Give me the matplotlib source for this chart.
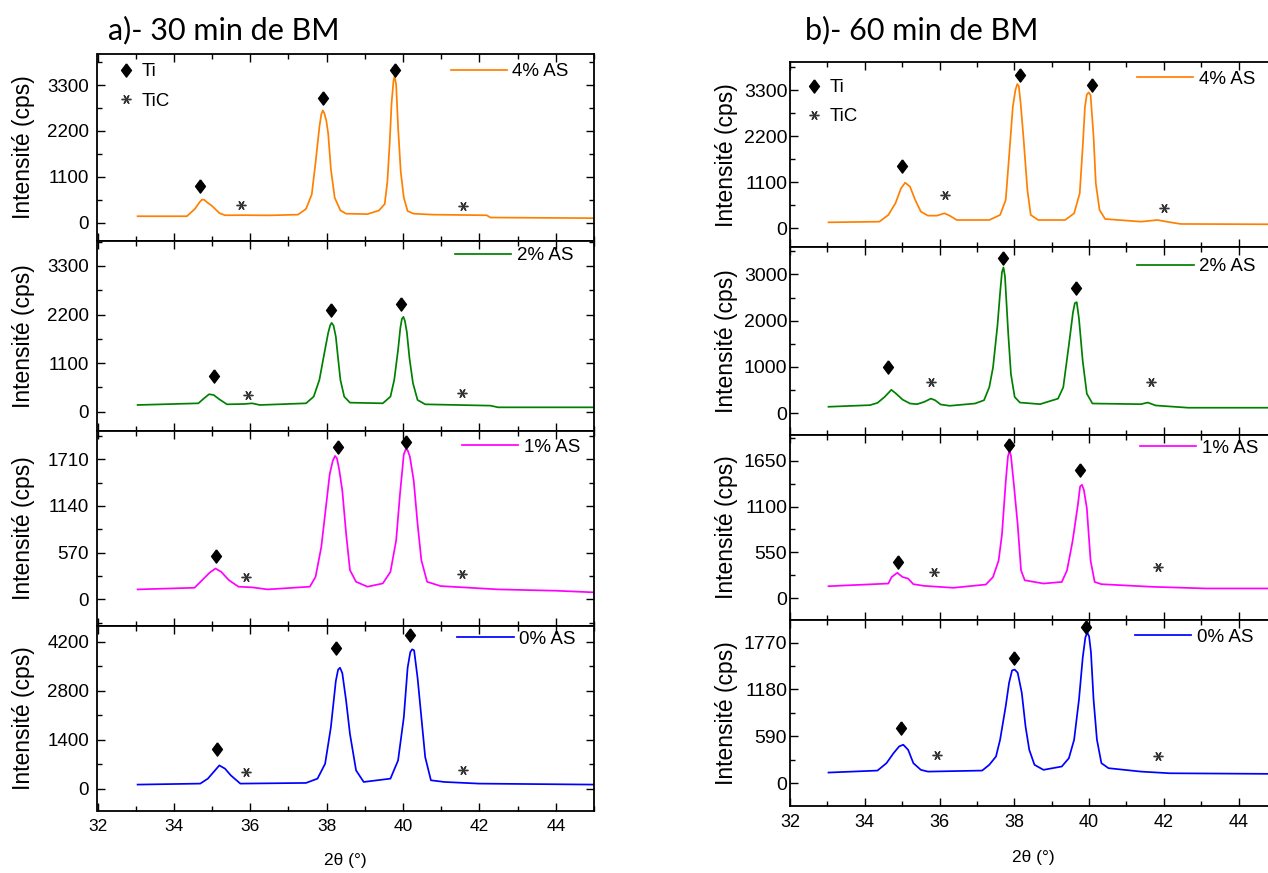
import numpy as np
import matplotlib.pyplot as plt
from matplotlib.ticker import MultipleLocator
from matplotlib.lines import Line2D

plt.rcParams['font.family'] = ['Liberation Sans', 'DejaVu Sans']

# -----------------------------
# Data (2theta in deg, intensity in cps)
# -----------------------------
# a) 30 min BM
tt_30_4 = [33.05, 34.34, 34.55, 34.68, 34.74, 34.80, 34.88, 35.0, 35.19, 35.34, 35.8, 36.5, 37.25, 37.46, 37.61, 37.71,
           37.81, 37.86, 37.90, 37.94, 37.99, 38.04, 38.11, 38.21, 38.36, 38.51, 39.07, 39.37, 39.52, 39.59, 39.65,
           39.70, 39.75, 39.78, 39.82, 39.87, 39.94, 40.02, 40.12, 40.28, 40.78, 42.19, 42.29, 45.0]
i_30_4 = [154, 154, 330, 500, 554, 545, 480, 400, 230, 177, 180, 175, 192, 330, 677, 1446,
          2292, 2600, 2692, 2620, 2450, 2138, 1292, 600, 292, 215, 205, 292, 446, 985, 1908,
          2869, 3400, 3520, 3300, 2292, 1215, 600, 277, 215, 192, 177, 123, 108]

tt_30_2 = [33.05, 34.64, 34.79, 34.92, 35.04, 35.19, 35.39, 35.85, 36.05, 36.25, 37.46, 37.66, 37.81, 37.94, 38.04,
           38.09, 38.13, 38.18, 38.24, 38.30, 38.36, 38.46, 38.61, 39.47, 39.67, 39.77, 39.87, 39.93, 39.97, 40.01,
           40.05, 40.10, 40.17, 40.26, 40.38, 40.58, 42.29, 42.49, 45.0]
i_30_2 = [152, 190, 303, 395, 379, 281, 167, 175, 190, 152, 190, 341, 721, 1328, 1783,
          1950, 2011, 1950, 1700, 1200, 721, 341, 205, 190, 341, 721, 1404, 1900, 2100, 2147,
          2050, 1800, 1200, 645, 266, 167, 137, 99, 99]

tt_30_1 = [33.05, 34.54, 34.74, 34.94, 35.09, 35.24, 35.44, 35.69, 36.05, 36.45, 37.56, 37.71, 37.86, 37.98, 38.08,
           38.16, 38.22, 38.27, 38.33, 38.41, 38.51, 38.61, 38.77, 39.07, 39.47, 39.67, 39.82, 39.92, 40.02, 40.07,
           40.12, 40.18, 40.28, 40.38, 40.48, 40.63, 40.98, 42.49, 44.0, 45.0]
i_30_1 = [121, 141, 234, 327, 376, 335, 234, 154, 146, 121, 154, 275, 639, 1124, 1528,
          1690, 1750, 1720, 1580, 1326, 800, 356, 214, 154, 194, 335, 720, 1285, 1770, 1830,
          1820, 1740, 1447, 922, 477, 214, 162, 121, 105, 85]

tt_30_0 = [33.05, 34.69, 34.89, 35.04, 35.19, 35.34, 35.49, 35.74, 37.46, 37.76, 37.96, 38.11, 38.24, 38.30, 38.35,
           38.41, 38.51, 38.61, 38.77, 38.97, 39.67, 39.87, 40.02, 40.12, 40.19, 40.24, 40.29, 40.38, 40.48, 40.58,
           40.73, 41.08, 41.99, 45.0]
i_30_0 = [114, 142, 284, 473, 662, 568, 378, 142, 161, 284, 710, 1750, 3075, 3400, 3453,
          3300, 2507, 1561, 520, 189, 284, 804, 2034, 3453, 3900, 3980, 3950, 3169, 2034, 899,
          237, 189, 142, 114]

# b) 60 min BM
tt_60_4 = [33.03, 34.39, 34.63, 34.82, 34.97, 35.08, 35.21, 35.35, 35.50, 35.69, 35.93, 36.13, 36.27, 36.46, 37.33,
           37.62, 37.77, 37.86, 37.96, 38.03, 38.08, 38.12, 38.17, 38.25, 38.35, 38.44, 38.64, 39.36, 39.60, 39.75,
           39.83, 39.89, 39.94, 39.99, 40.04, 40.12, 40.18, 40.28, 40.43, 41.39, 41.83, 42.07, 42.45, 45.0]
i_60_4 = [143, 159, 319, 598, 956, 1092, 996, 677, 398, 303, 303, 359, 303, 199, 199,
          319, 677, 1713, 2908, 3307, 3450, 3400, 2988, 2112, 916, 319, 199, 199, 359, 837,
          1952, 2908, 3200, 3250, 3187, 2191, 1076, 438, 223, 159, 199, 159, 104, 96]

tt_60_2 = [33.03, 34.14, 34.34, 34.53, 34.71, 34.82, 35.01, 35.21, 35.40, 35.59, 35.77, 35.88, 36.03, 36.27, 36.95,
           37.19, 37.33, 37.43, 37.55, 37.62, 37.67, 37.71, 37.75, 37.84, 37.91, 38.01, 38.15, 38.69, 39.17, 39.31,
           39.46, 39.57, 39.62, 39.67, 39.73, 39.83, 39.94, 40.09, 41.39, 41.57, 41.78, 42.65, 45.0]
i_60_2 = [141, 176, 225, 352, 507, 437, 296, 211, 197, 246, 317, 282, 190, 162, 211,
          282, 563, 986, 1901, 2606, 3050, 3150, 2958, 1690, 845, 352, 232, 197, 317, 563,
          1479, 2183, 2380, 2400, 2042, 1127, 423, 211, 197, 232, 169, 120, 120]

tt_60_1 = [33.03, 34.63, 34.72, 34.87, 35.01, 35.16, 35.30, 35.59, 36.37, 37.24, 37.43, 37.58, 37.67, 37.77, 37.83,
           37.87, 37.91, 37.99, 38.09, 38.18, 38.28, 38.78, 39.27, 39.41, 39.56, 39.70, 39.76, 39.81, 39.86, 39.94,
           40.04, 40.15, 40.33, 41.68, 43.13, 45.0]
i_60_1 = [145, 177, 255, 306, 255, 236, 169, 149, 126, 165, 255, 452, 766, 1395, 1700,
          1770, 1709, 1356, 884, 334, 216, 177, 196, 334, 688, 1120, 1340, 1360, 1300, 1081,
          452, 196, 169, 138, 118, 118]

tt_60_0 = [33.03, 34.34, 34.58, 34.77, 34.92, 35.03, 35.16, 35.30, 35.50, 35.69, 37.14, 37.33, 37.51, 37.62, 37.77,
           37.86, 37.94, 38.01, 38.09, 38.20, 38.30, 38.40, 38.54, 38.78, 39.27, 39.46, 39.60, 39.73, 39.83, 39.90,
           39.95, 40.00, 40.05, 40.12, 40.21, 40.33, 40.52, 41.39, 42.16, 45.0]
i_60_0 = [135, 160, 253, 379, 464, 485, 421, 253, 169, 147, 160, 232, 337, 548, 969,
          1264, 1420, 1430, 1391, 1138, 716, 421, 232, 169, 211, 316, 548, 1054, 1580, 1833,
          1896, 1850, 1650, 1054, 548, 253, 190, 147, 126, 118]

# peak labels: Ti (diamonds) and TiC (asterisks)
ti_x_30_4, ti_y_30_4 = [34.69, 37.91, 39.79], [869, 2985, 3662]
tic_x_30_4, tic_y_30_4 = [35.77, 41.56], [423, 392]
ti_x_30_2, ti_y_30_2 = [35.04, 38.12, 39.95], [812, 2299, 2428]
tic_x_30_2, tic_y_30_2 = [35.95, 41.55], [379, 417]
ti_x_30_1, ti_y_30_1 = [35.09, 38.29, 40.07], [529, 1863, 1924]
tic_x_30_1, tic_y_30_1 = [35.88, 41.55], [275, 303]
ti_x_30_0, ti_y_30_0 = [35.14, 38.24, 40.19], [1135, 4021, 4399]
tic_x_30_0, tic_y_30_0 = [35.90, 41.56], [473, 539]

ti_x_60_4, ti_y_60_4 = [34.99, 38.14, 40.09], [1490, 3673, 3426]
tic_x_60_4, tic_y_60_4 = [36.14, 42.0], [797, 478]
ti_x_60_2, ti_y_60_2 = [34.63, 37.70, 39.65], [1000, 3345, 2711]
tic_x_60_2, tic_y_60_2 = [35.76, 41.66], [669, 669]
ti_x_60_1, ti_y_60_1 = [34.90, 37.86, 39.75], [432, 1835, 1532]
tic_x_60_1, tic_y_60_1 = [35.86, 41.85], [314, 373]
ti_x_60_0, ti_y_60_0 = [34.97, 37.99, 39.92], [695, 1580, 1960]
tic_x_60_0, tic_y_60_0 = [35.93, 41.85], [358, 337]

labels = ['4% AS', '2% AS', '1% AS', '0% AS']
colors = ['#FF8000', '#008000', '#FF00FF', '#0000FF']
yticks_30 = [[0, 1100, 2200, 3300], [0, 1100, 2200, 3300], [0, 570, 1140, 1710], [0, 1400, 2800, 4200]]
yticks_60 = [[0, 1100, 2200, 3300], [0, 1000, 2000, 3000], [0, 550, 1100, 1650], [0, 590, 1180, 1770]]
xticks = [32, 34, 36, 38, 40, 42, 44]

DIAMOND = [(0, 1), (0.75, 0), (0, -1), (-0.75, 0), (0, 1)]
STAR = (6, 2, 90)

# -----------------------------
# Layout (pixel boxes of the panels)
# -----------------------------
W, H = 1268, 873
fig = plt.figure(figsize=(W / 100, H / 100), dpi=100)


def add_ax(l, r, t, b):
    return fig.add_axes([l / W, 1 - b / H, (r - l) / W, (b - t) / H])


cols = [
    dict(left=97.5, right=594, edges=[54, 241, 430.7, 625.7, 811],
         ylims=[(-440, 4045), (-430, 3864), (-322, 2058), (-641, 4655)],
         yticks=yticks_30,
         data=[(tt_30_4, i_30_4), (tt_30_2, i_30_2), (tt_30_1, i_30_1), (tt_30_0, i_30_0)],
         ti=[(ti_x_30_4, ti_y_30_4), (ti_x_30_2, ti_y_30_2), (ti_x_30_1, ti_y_30_1), (ti_x_30_0, ti_y_30_0)],
         tic=[(tic_x_30_4, tic_y_30_4), (tic_x_30_2, tic_y_30_2), (tic_x_30_1, tic_y_30_1), (tic_x_30_0, tic_y_30_0)],
         leg=[(0.711, 0.906), (0.720, 0.922), (0.734, 0.915), (0.725, 0.927)],
         phase_leg=(0.042, 0.95), tick_fs=13.5, xtick_fs=12.5, ypad=6.0, ylab_x=-0.126, xlab_y=-0.227,
         title='a)- 30 min de BM', title_x=108),
    dict(left=790, right=1276, edges=[62.3, 247.3, 435, 620, 805.7],
         ylims=[(-454, 3970), (-469, 3585), (-260, 1957), (-282, 2054)],
         yticks=yticks_60,
         data=[(tt_60_4, i_60_4), (tt_60_2, i_60_2), (tt_60_1, i_60_1), (tt_60_0, i_60_0)],
         ti=[(ti_x_60_4, ti_y_60_4), (ti_x_60_2, ti_y_60_2), (ti_x_60_1, ti_y_60_1), (ti_x_60_0, ti_y_60_0)],
         tic=[(tic_x_60_4, tic_y_60_4), (tic_x_60_2, tic_y_60_2), (tic_x_60_1, tic_y_60_1), (tic_x_60_0, tic_y_60_0)],
         leg=[(0.714, 0.908), (0.715, 0.897), (0.720, 0.928), (0.710, 0.907)],
         phase_leg=(0.033, 0.91), tick_fs=14, xtick_fs=13, ypad=2.0, ylab_x=-0.107, xlab_y=-0.239,
         title='b)- 60 min de BM', title_x=805),
]

for col in cols:
    e = col['edges']
    for k in range(4):
        ax = add_ax(col['left'], col['right'], e[k], e[k + 1])
        x, y = col['data'][k]
        line, = ax.plot(x, y, color=colors[k], lw=1.25)
        ax.plot(*col['ti'][k], ls='', marker=DIAMOND, ms=9.5, color='black')
        ax.plot(*col['tic'][k], ls='', marker=STAR, ms=7, mew=1.0, color='#333333')

        ax.set_xlim(32, 45)
        ax.set_ylim(*col['ylims'][k])
        ax.set_xticks(xticks)
        ax.xaxis.set_minor_locator(MultipleLocator(1))
        yt = col['yticks'][k]
        ax.set_yticks(yt)
        ax.yaxis.set_minor_locator(MultipleLocator(yt[1] / 2))
        ax.tick_params(which='both', direction='in', top=True, right=True, width=1.0)
        ax.tick_params(which='major', length=6)
        ax.tick_params(which='minor', length=3.5)
        ax.tick_params(axis='y', pad=col['ypad'], labelsize=col['tick_fs'])
        ax.tick_params(axis='x', pad=6, labelsize=col['xtick_fs'])
        for s in ax.spines.values():
            s.set_linewidth(1.3)

        ax.set_ylabel('Intensité (cps)', fontsize=16.5)
        ax.yaxis.set_label_coords(col['ylab_x'], 0.5)

        lx, ly = col['leg'][k]
        if k == 0:
            leg2 = ax.legend(
                [Line2D([], [], ls='', marker=DIAMOND, ms=9.5, color='black'),
                 Line2D([], [], ls='', marker=STAR, ms=7, mew=1.0, color='#333333')],
                ['Ti', 'TiC'], loc='upper left', bbox_to_anchor=col['phase_leg'],
                frameon=False, fontsize=13.5, handlelength=0.8, handletextpad=0.45,
                labelspacing=0.65, borderpad=0, borderaxespad=0)
            ax.add_artist(leg2)
        ax.legend([line], [labels[k]], loc='center left', bbox_to_anchor=(lx, ly),
                  frameon=False, fontsize=13.5, handlelength=3.0, handletextpad=0.3,
                  borderpad=0, borderaxespad=0)

        if k < 3:
            ax.tick_params(axis='x', labelbottom=False)
        else:
            ax.set_xlabel('2θ (°)', fontsize=12.5)
            ax.xaxis.set_label_coords(0.5, col['xlab_y'])

    fig.text(col['title_x'] / W, 1 - 30 / H, col['title'], fontsize=22, family=['Lato', 'DejaVu Sans'],
             ha='left', va='center')

fig.savefig('out.png', dpi=100)
